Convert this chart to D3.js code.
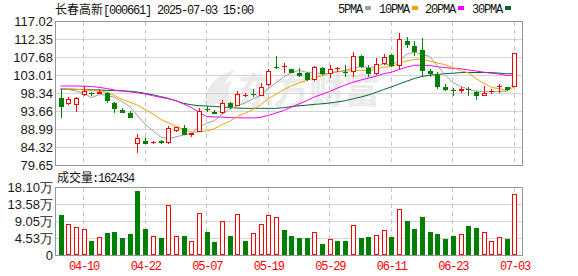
<!DOCTYPE html>
<html>
<head>
<meta charset="utf-8">
<script src="https://cdn.jsdelivr.net/npm/d3@7"></script>
<style>
body { margin: 0; background: #fff; }
svg { display: block; }
.num { font-family: "Liberation Sans", Arial, sans-serif; font-size: 13px; fill: #1a1a1a; }
.mono { font-family: "Liberation Mono", "DejaVu Sans Mono", monospace; font-size: 12px; letter-spacing: -1.2px; fill: #111; }
.cjk { font-family: "Noto Sans CJK SC", sans-serif; font-size: 12px; fill: #111; }
</style>
</head>
<body>
<svg id="chart" width="578" height="276"></svg>
<script>
'use strict'

const dates = ['04-07','04-08','04-09','04-10','04-11','04-14','04-15','04-16','04-17','04-18',
	'04-21','04-22','04-23','04-24','04-25','04-28','04-29','04-30','05-06','05-07',
	'05-08','05-09','05-12','05-13','05-14','05-15','05-16','05-19','05-20','05-21',
	'05-22','05-23','05-26','05-27','05-28','05-29','05-30','06-03','06-04','06-05',
	'06-06','06-09','06-10','06-11','06-12','06-13','06-16','06-17','06-18','06-19',
	'06-20','06-23','06-24','06-25','06-26','06-27','06-30','07-01','07-02','07-03']

const open = [96.96,95.40,95.14,97.81,98.30,98.07,98.26,95.82,93.92,93.06,
	85.02,85.88,85.30,85.80,85.28,88.47,89.17,87.51,88.29,94.20,
	93.48,93.06,95.66,94.96,97.70,98.10,97.55,100.41,105.20,105.30,
	104.48,103.60,103.45,101.63,104.82,103.26,104.60,103.80,103.86,108.00,
	104.95,103.26,105.94,108.20,105.34,111.83,110.53,109.49,104.04,103.00,
	99.97,99.00,98.77,99.45,98.52,97.55,98.70,99.85,99.97,99.97]
const high = [99.29,97.30,97.37,100.07,98.67,99.29,98.67,95.90,94.52,93.74,
	87.61,86.73,85.80,86.20,89.85,89.50,90.03,88.00,94.52,94.96,
	93.92,96.52,95.92,98.93,98.41,99.29,100.85,104.48,107.94,106.20,
	104.60,104.74,103.70,105.34,105.16,105.60,105.16,105.60,108.90,108.30,
	105.60,107.34,108.46,108.40,113.83,112.80,111.91,112.61,104.56,103.71,
	100.59,99.55,99.97,99.97,98.85,100.15,99.29,100.59,100.00,108.70]
const low = [91.92,95.30,93.48,97.55,97.63,98.00,95.66,93.22,93.20,91.90,
	82.84,85.10,85.20,85.20,85.20,88.20,87.40,86.99,88.20,93.40,
	92.80,92.80,94.10,94.90,97.37,97.37,97.50,100.15,104.48,103.60,
	103.50,102.41,101.50,101.50,103.10,102.30,103.86,102.56,102.56,104.90,
	102.50,103.10,105.60,105.00,104.48,109.93,107.94,102.80,102.41,99.37,
	98.85,97.63,98.41,97.55,96.52,97.55,98.15,98.41,98.85,99.90]
const close = [94.78,96.78,96.96,98.93,98.20,98.52,96.33,94.18,93.22,91.92,
	86.73,85.17,85.70,85.30,89.17,89.43,87.43,87.95,93.66,94.00,
	92.88,95.66,94.62,98.00,97.78,98.03,99.81,104.04,105.10,105.38,
	103.60,102.82,101.63,105.08,103.19,104.48,104.70,103.60,107.94,105.10,
	103.19,105.78,107.68,105.26,112.27,110.79,108.90,104.12,103.19,99.81,
	99.11,98.90,99.45,99.19,97.55,98.26,98.80,100.05,99.11,108.64]

const volume = [105800,81200,73300,68000,37000,46800,58200,60900,45000,55600,
	169300,68800,49500,45000,132300,51100,50300,37000,113000,61700,
	34400,91800,50300,110300,37000,57400,81200,107700,101300,66200,
	50300,45000,45000,60900,29100,41500,37000,37000,78600,45000,
	47600,52100,65400,47600,123600,90000,68800,100500,61700,55600,
	42300,50300,55600,76700,71400,60900,37000,47600,42300,162434]
// 1 = red (hollow) volume bar, 0 = green
const volUp = [0,1,1,1,0,1,0,0,0,0, 0,0,1,0,1,1,0,1,1,0,
	0,1,0,1,0,1,1,1,1,0, 0,0,0,1,0,1,0,0,1,0,
	0,1,1,0,1,0,0,0,0,0, 0,0,1,0,0,1,1,1,0,1]

// moving averages before the window is full
const ma5Head = [99.50,99.24,98.85,98.33]
const ma10Head = [99.55,99.42,99.29,99.16,98.98,98.80,98.59,97.68,96.65]
const ma20Head = [100.15,100.15,100.15,100.10,100.02,99.81,99.50,99.11,98.85,98.64,
	98.39,98.07,97.63,97.22,96.85,96.34,95.48,94.57,93.40]
const ma30Head = [99.37,99.32,99.27,99.22,99.16,99.11,99.03,98.95,98.90,98.80,
	98.59,98.26,97.87,97.42,96.96,96.31,95.66,95.27,95.04,94.96,
	94.83,94.70,94.57,94.44,94.36,94.36,94.36,94.36,94.36]

const priceTicks = [117.02,112.35,107.68,103.01,98.34,93.66,88.99,84.32,79.65]
const volTicks = [0,45300,90500,135800,181000]
const volTickLabels = ['0','4.53万','9.05万','13.58万','18.10万']
const labelIdx = [3,11,19,27,35,43,51,59]

const legend = [
	{name: '5PMA', color: '#a0a0a0', x: 338},
	{name: '10PMA', color: '#f5a300', x: 379},
	{name: '20PMA', color: '#ff00ff', x: 425},
	{name: '30PMA', color: '#006b2e', x: 472}
]

const RED = '#ff0000'
const GREEN = '#008000'
const margins = {left: 55, right: 522, top: 21, bottom: 165, vTop: 187, vBottom: 255}

const svg = d3.select('#chart')

const x = d3.scaleLinear().domain([0, dates.length - 1]).range([60.5, 514.4])
const y = d3.scaleLinear().domain([79.65, 117.02]).range([margins.bottom, margins.top])
const yVol = d3.scaleLinear().domain([0, 181000]).range([margins.vBottom, margins.vTop])

function ma(n, head) {
	return close.map((c, i) => i < n - 1 ? head[i] : d3.mean(close.slice(i - n + 1, i + 1)))
}

// watermark
const wm = svg.append('g').attr('fill', '#ebebeb')
wm.append('path')
	.attr('d', 'M204,104 C206,86 216,74 236,70 C226,78 220,88 222,104 Z M214,104 C216,92 222,84 232,80 C228,88 228,96 230,104 Z')
wm.append('text')
	.attr('x', 238).attr('y', 104)
	.attr('textLength', 142)
	.style('font-family', '"Noto Sans CJK SC", sans-serif')
	.style('font-size', '36px')
	.style('font-weight', 'bold')
	.text('东方财富')

// horizontal grid
svg.append('g')
	.attr('transform', 'translate(' + margins.left + ',0)')
	.call(d3.axisLeft(y).tickValues(priceTicks).tickSize(-(margins.right - margins.left)).tickFormat(''))
	.call(g => g.select('.domain').remove())
	.selectAll('line').attr('stroke', '#d4d4d4').attr('shape-rendering', 'crispEdges')

svg.append('g')
	.attr('transform', 'translate(' + margins.left + ',0)')
	.call(d3.axisLeft(yVol).tickValues(volTicks).tickSize(-(margins.right - margins.left)).tickFormat(''))
	.call(g => g.select('.domain').remove())
	.selectAll('line').attr('stroke', '#d4d4d4').attr('shape-rendering', 'crispEdges')

// vertical dashed grid
const vgrid = svg.append('g').attr('stroke', '#c8c8c8').attr('stroke-dasharray', '5,3')
labelIdx.forEach(i => {
	const gx = Math.floor(x(i)) + 0.5
	vgrid.append('line').attr('x1', gx).attr('x2', gx).attr('y1', margins.top).attr('y2', margins.bottom)
	vgrid.append('line').attr('x1', gx).attr('x2', gx).attr('y1', margins.vTop).attr('y2', margins.vBottom)
})

// borders
const border = svg.append('g').attr('fill', 'none').attr('stroke', '#969696').attr('shape-rendering', 'crispEdges')
border.append('rect').attr('x', margins.left + 0.5).attr('y', margins.top + 0.5)
	.attr('width', margins.right - margins.left).attr('height', margins.bottom - margins.top)
border.append('rect').attr('x', margins.left + 0.5).attr('y', margins.vTop + 0.5)
	.attr('width', margins.right - margins.left).attr('height', margins.vBottom - margins.vTop)

// y labels
svg.append('g')
	.attr('transform', 'translate(' + margins.left + ',0)')
	.call(d3.axisLeft(y).tickValues(priceTicks).tickSize(0).tickPadding(2).tickFormat(d3.format('.2f')))
	.call(g => g.select('.domain').remove())
	.selectAll('text').attr('class', 'num').attr('dy', '0.34em').attr('font-size', null).attr('font-family', null)

svg.append('g')
	.attr('transform', 'translate(' + margins.left + ',0)')
	.call(d3.axisLeft(yVol).tickValues(volTicks).tickSize(0).tickPadding(2).tickFormat((d, i) => volTickLabels[i]))
	.call(g => g.select('.domain').remove())
	.selectAll('text').attr('class', 'num').attr('dy', '0.34em').attr('font-size', null).attr('font-family', null)

// x labels
svg.append('g')
	.attr('transform', 'translate(0,270)')
	.call(d3.axisBottom(x).tickValues(labelIdx).tickSize(0).tickFormat(i => dates[i]))
	.call(g => g.select('.domain').remove())
	.selectAll('text')
	.attr('class', 'mono').attr('y', 0).attr('dy', null)
	.attr('font-size', null).attr('font-family', null)
	.style('fill', RED)

// moving averages
const line = d3.line().x((d, i) => x(i)).y(d => y(d))
const maSeries = [ma(5, ma5Head), ma(10, ma10Head), ma(20, ma20Head), ma(30, ma30Head)]
maSeries.slice().reverse().forEach((s, k) => {
	svg.append('path')
		.attr('d', line(s))
		.attr('fill', 'none')
		.attr('stroke', legend[3 - k].color)
		.attr('stroke-width', 1)
})

// candles
const candles = svg.append('g').attr('shape-rendering', 'crispEdges')
dates.forEach((d, i) => {
	const px = Math.round(x(i))
	const up = close[i] >= open[i]
	const color = up ? RED : GREEN
	const yT = Math.round(y(Math.max(open[i], close[i])))
	const yB = Math.round(y(Math.min(open[i], close[i])))
	const yH = Math.round(y(high[i]))
	const yL = Math.round(y(low[i]))
	const c = candles.append('g').attr('stroke', color)
	c.append('line').attr('x1', px + 0.5).attr('x2', px + 0.5).attr('y1', yH).attr('y2', yT)
	c.append('line').attr('x1', px + 0.5).attr('x2', px + 0.5).attr('y1', yB).attr('y2', yL)
	if (yB - yT < 2) {
		c.append('line').attr('x1', px - 2).attr('x2', px + 3).attr('y1', yT + 0.5).attr('y2', yT + 0.5)
	} else if (up) {
		c.append('rect').attr('x', px - 1.5).attr('y', yT + 0.5).attr('width', 4).attr('height', yB - yT - 1)
			.attr('fill', '#fff')
	} else {
		c.append('rect').attr('x', px - 2).attr('y', yT).attr('width', 5).attr('height', yB - yT)
			.attr('fill', color).attr('stroke', 'none')
	}
})

// volume
const vol = svg.append('g').attr('shape-rendering', 'crispEdges')
volume.forEach((v, i) => {
	const px = Math.round(x(i))
	const top = Math.round(yVol(v))
	if (volUp[i]) {
		vol.append('rect').attr('x', px - 1.5).attr('y', top + 0.5).attr('width', 4).attr('height', margins.vBottom - top - 1)
			.attr('fill', '#fff').attr('stroke', RED)
	} else {
		vol.append('rect').attr('x', px - 2).attr('y', top).attr('width', 5).attr('height', margins.vBottom - top)
			.attr('fill', GREEN)
	}
})

// title
svg.append('text').attr('class', 'cjk').attr('x', 55).attr('y', 14).text('长春高新')
svg.append('text').attr('class', 'mono').attr('x', 103).attr('y', 13.5).text('[000661] 2025-07-03 15:00')

// legend
legend.forEach(l => {
	svg.append('text').attr('class', 'mono').attr('x', l.x).attr('y', 12.5).text(l.name)
	svg.append('rect').attr('x', l.x + l.name.length * 6 + 3).attr('y', 6).attr('width', 6).attr('height', 4)
		.attr('fill', l.color)
})

// volume caption
svg.append('text').attr('class', 'cjk').attr('x', 57).attr('y', 182).text('成交量')
svg.append('text').attr('class', 'mono').attr('x', 92).attr('y', 181.5).text(':' + volume[volume.length - 1])
</script>
</body>
</html>
